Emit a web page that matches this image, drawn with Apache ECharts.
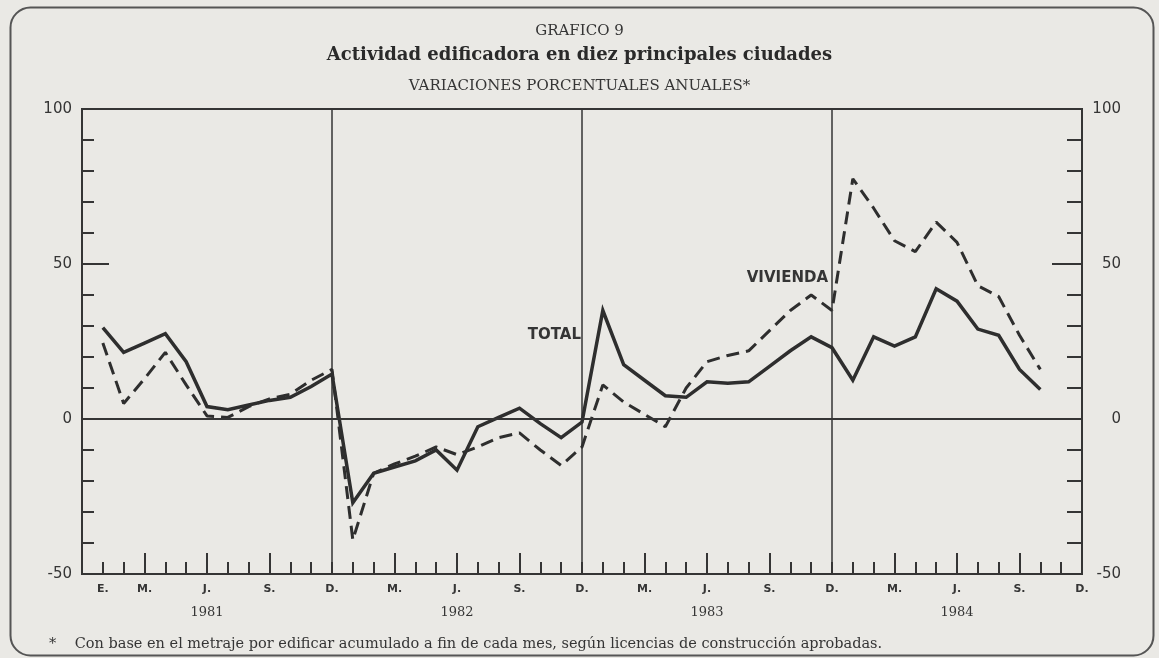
<!DOCTYPE html>
<html>
<head>
<meta charset="utf-8">
<title>Grafico 9 - Actividad edificadora</title>
<script src="https://cdn.jsdelivr.net/npm/echarts/dist/echarts.min.js"></script>
<style>
  html, body { margin: 0; padding: 0; background: #eae9e5; }
  #chart { width: 1159px; height: 658px; }
</style>
</head>
<body>
<div id="chart"></div>
<script>
// eje x: desde dic. 1980 hasta dic. 1984, un punto por mes
var years = ['1981', '1982', '1983', '1984'];
var monthNames = ['E.', 'F.', 'M.', 'A.', 'M.', 'J.', 'J.', 'A.', 'S.', 'O.', 'N.', 'D.'];

// variaciones porcentuales anuales, ene. 1981 - oct. 1984
var total = [
    29.5, 21.5, 24.5, 27.5, 18.5, 4, 3, 4.5, 6, 7, 10.5, 14.5,
    -27, -17.5, -15.5, -13.5, -10, -16.5, -2.5, 0.5, 3.5, -1.5, -6, -1,
    35, 17.5, 12.5, 7.5, 7, 12, 11.5, 12, 17, 22, 26.5, 23,
    12.5, 26.5, 23.5, 26.5, 42, 38, 29, 27, 16, 9.5
];
var vivienda = [
    24.5, 5, 13, 21.5, 11, 1, 0.5, 4, 6.5, 8, 12.5, 16,
    -39, -17.5, -14.5, -12, -9, -11.5, -9, -6, -4.5, -10, -15, -9,
    11, 5.5, 1.5, -2.5, 10, 18.5, 20.5, 22, 28.5, 35, 40, 35,
    77.5, 68, 57.5, 54, 63.5, 57, 43, 39.5, 27, 16
];

var yTicks = [-50, 0, 50, 100];

var categories = ['D. 1980'];
years.forEach(function (y) {
    monthNames.forEach(function (m) { categories.push(m + ' ' + y); });
});

var ink = '#353535';
var sans = 'DejaVu Sans';
var serif = 'DejaVu Serif';

var chart = echarts.init(document.getElementById('chart'));

function showMonthLabel(i) { return i === 1 || (i > 0 && i % 3 === 0); }
function tallTick(i) { return i % 3 === 0 && i % 12 !== 0; }
function yearLine(i) { return i > 0 && i < 48 && i % 12 === 0; }

var option = {
    backgroundColor: '#eae9e5',
    animation: false,
    title: [
        {
            text: 'GRAFICO 9', left: 'center', top: 19,
            textStyle: { fontFamily: serif, fontSize: 15, fontWeight: 'normal', color: ink }
        },
        {
            text: 'Actividad edificadora en diez principales ciudades', left: 'center', top: 41,
            textStyle: { fontFamily: serif, fontSize: 18, fontWeight: 'bold', color: '#2a2a2a' }
        },
        {
            text: 'VARIACIONES PORCENTUALES ANUALES*', left: 'center', top: 74,
            textStyle: { fontFamily: serif, fontSize: 15, fontWeight: 'normal', color: ink }
        },
        {
            text: '*    Con base en el metraje por edificar acumulado a fin de cada mes, según licencias de construcción aprobadas.',
            left: 44, top: 632,
            textStyle: { fontFamily: serif, fontSize: 14.5, fontWeight: 'normal', color: ink }
        }
    ],
    grid: {
        left: 82, right: 77, top: 109, bottom: 84,
        show: true, borderColor: ink, borderWidth: 2,
        outerBoundsMode: 'none'
    },
    xAxis: [
        {
            type: 'category', data: categories, boundaryGap: false, position: 'bottom',
            axisLine: { show: true, onZero: false, lineStyle: { color: ink, width: 2 } },
            axisTick: { show: true, inside: true, length: 12, interval: 0, lineStyle: { color: ink, width: 2 } },
            axisLabel: {
                interval: function (i) { return showMonthLabel(i); },
                formatter: function (v) { return v.split(' ')[0]; },
                margin: 10, fontFamily: sans, fontWeight: 'bold', fontSize: 11, color: ink
            },
            splitLine: { show: false }
        },
        {
            type: 'category', data: categories, boundaryGap: false, position: 'bottom',
            axisLine: { show: false, onZero: false },
            axisTick: {
                show: true, inside: true, length: 21,
                interval: function (i) { return tallTick(i); },
                lineStyle: { color: ink, width: 2 }
            },
            axisLabel: {
                interval: function (i) { return i % 12 === 6; },
                formatter: function (v) { return v.split(' ')[1]; },
                margin: 32, fontFamily: serif, fontSize: 13, color: ink
            },
            splitLine: {
                show: true,
                interval: function (i) { return yearLine(i); },
                lineStyle: { color: ink, width: 1.5 }
            }
        }
    ],
    yAxis: [
        {
            type: 'value', min: -50, max: 100, interval: 10, position: 'left',
            axisLine: { show: true, lineStyle: { color: ink, width: 2 } },
            axisTick: { show: true, inside: true, length: 12, lineStyle: { color: ink, width: 2 } },
            axisLabel: { show: false },
            splitLine: { show: false }
        },
        {
            type: 'value', min: -50, max: 100, interval: 50, position: 'left',
            axisLine: { show: false },
            axisTick: { show: true, inside: true, length: 27, lineStyle: { color: ink, width: 2 } },
            axisLabel: {
                margin: 10, fontFamily: sans, fontSize: 15, color: ink,
                formatter: function (v) { return yTicks.indexOf(v) >= 0 ? String(v) : ''; }
            },
            splitLine: { show: false }
        },
        {
            type: 'value', min: -50, max: 100, interval: 10, position: 'right',
            axisLine: { show: true, lineStyle: { color: ink, width: 2 } },
            axisTick: { show: true, inside: true, length: 15, lineStyle: { color: ink, width: 2 } },
            axisLabel: { show: false },
            splitLine: { show: false }
        },
        {
            type: 'value', min: -50, max: 100, interval: 50, position: 'right',
            axisLine: { show: false },
            axisTick: { show: true, inside: true, length: 30, lineStyle: { color: ink, width: 2 } },
            axisLabel: {
                margin: 39, align: 'right', fontFamily: sans, fontSize: 15, color: ink,
                formatter: function (v) { return yTicks.indexOf(v) >= 0 ? String(v) : ''; }
            },
            splitLine: { show: false }
        }
    ],
    series: [
        {
            name: 'Total', type: 'line', xAxisIndex: 0, yAxisIndex: 0,
            data: [null].concat(total),
            symbol: 'none', z: 4,
            lineStyle: { color: '#2e2e2e', width: 3.5, type: 'solid', join: 'miter' },
            markLine: {
                silent: true, symbol: 'none', label: { show: false },
                lineStyle: { color: ink, width: 2, type: 'solid' },
                data: [{ yAxis: 0 }]
            },
            markPoint: {
                symbol: 'circle', symbolSize: 0, silent: true,
                label: {
                    show: true, position: 'left', distance: 1,
                    fontFamily: sans, fontWeight: 'bold', fontSize: 15, color: ink,
                    formatter: 'TOTAL'
                },
                data: [{ coord: [categories[24], 27] }]
            }
        },
        {
            name: 'Vivienda', type: 'line', xAxisIndex: 0, yAxisIndex: 0,
            data: [null].concat(vivienda),
            symbol: 'none', z: 3,
            lineStyle: { color: '#2e2e2e', width: 3, type: [13, 7] },
            markPoint: {
                symbol: 'circle', symbolSize: 0, silent: true,
                label: {
                    show: true, position: 'left', distance: 4,
                    fontFamily: sans, fontWeight: 'bold', fontSize: 15, color: ink,
                    formatter: 'VIVIENDA'
                },
                data: [{ coord: [categories[36], 45.5] }]
            }
        }
    ],
    graphic: [
        {
            type: 'rect', left: 8, top: 5, silent: true, z: -1,
            shape: { width: 1143, height: 648, r: 20 },
            style: { fill: 'none', stroke: '#555', lineWidth: 2 }
        }
    ]
};

option && chart.setOption(option);
</script>
</body>
</html>
